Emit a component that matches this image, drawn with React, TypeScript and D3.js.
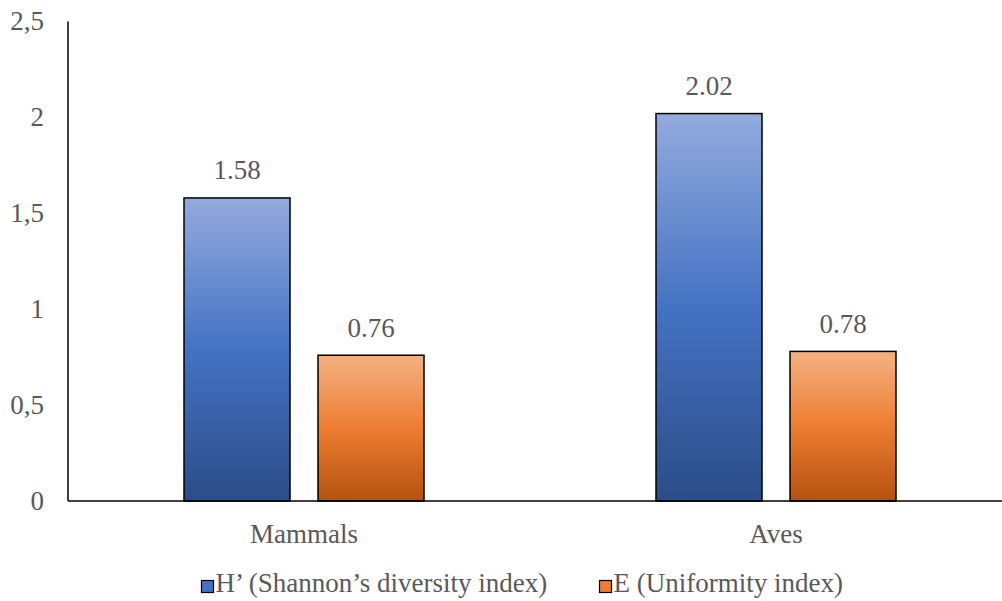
import React from "react";
import * as d3 from "d3";

const categories = ["Mammals", "Aves"];
const seriesNames = ["H’ (Shannon’s diversity index)", "E (Uniformity index)"];
const shannon = [1.58, 2.02];
const uniformity = [0.76, 0.78];
const yTicks = [0, 0.5, 1, 1.5, 2, 2.5];
const yTickLabels = ["0", "0,5", "1", "1,5", "2", "2,5"];

const W = 1002;
const H = 601;
const left = 68;
const right = 1012;
const top = 21.5;
const bottom = 501;

export default function App() {
  const x = d3.scaleBand<string>().domain(categories).range([left, right]).paddingInner(0).paddingOuter(0);
  const y = d3.scaleLinear().domain([0, 2.5]).range([bottom, top]);
  const barW = 106;
  const gap = 28;
  const series = [shannon, uniformity];
  const fills = ["url(#gBlue)", "url(#gOrange)"];
  const font = "\"Liberation Serif\"";
  const textColor = "#595959";
  const fs = 27;
  const ts = { fontFamily: font };

  return (
    <svg width={W} height={H} style={{ position: "absolute", left: 0, top: 0 }}>
      <defs>
        <linearGradient id="gBlue" x1="0" y1="0" x2="0" y2="1">
          <stop offset="0" stopColor="#93abdd" />
          <stop offset="0.5" stopColor="#4472c4" />
          <stop offset="1" stopColor="#2c4d87" />
        </linearGradient>
        <linearGradient id="gOrange" x1="0" y1="0" x2="0" y2="1">
          <stop offset="0" stopColor="#f4b183" />
          <stop offset="0.5" stopColor="#ed7d31" />
          <stop offset="1" stopColor="#b4520f" />
        </linearGradient>
      </defs>
      <rect width={W} height={H} fill="#fff" />
      {yTicks.map((t, i) => (
        <text key={t} x={44} y={y(t) + 8.5} textAnchor="end" fontSize={fs} fill={textColor} style={ts}>
          {yTickLabels[i]}
        </text>
      ))}
      {categories.map((c, ci) => {
        const cx = (x(c) as number) + x.bandwidth() / 2;
        return (
          <g key={c}>
            {series.map((s, si) => {
              const bx = si === 0 ? cx - gap / 2 - barW : cx + gap / 2;
              const v = s[ci];
              return (
                <g key={si}>
                  <rect x={bx} y={y(v)} width={barW} height={bottom - y(v)} fill={fills[si]} stroke="#000" strokeWidth={1.5} />
                  <text x={bx + barW / 2} y={y(v) - 18.5} textAnchor="middle" fontSize={fs} fill={textColor} style={ts}>
                    {v.toFixed(2)}
                  </text>
                </g>
              );
            })}
            <text x={cx} y={543} textAnchor="middle" fontSize={fs} fill={textColor} style={ts}>
              {c}
            </text>
          </g>
        );
      })}
      <line x1={left} x2={W} y1={bottom} y2={bottom} stroke="#000" strokeWidth={1.5} />
      <line x1={left} x2={left} y1={top} y2={bottom} stroke="#000" strokeWidth={1.5} />
      {seriesNames.map((n, i) => {
        const lx = i === 0 ? 201.5 : 599.5;
        return (
          <g key={n}>
            <rect x={lx} y={580.5} width={12} height={12} fill={i === 0 ? "#4472c4" : "#ed7d31"} stroke="#000" strokeWidth={1.2} />
            <text x={lx + 14} y={592} fontSize={fs} fill={textColor} style={ts}>
              {n}
            </text>
          </g>
        );
      })}
    </svg>
  );
}
